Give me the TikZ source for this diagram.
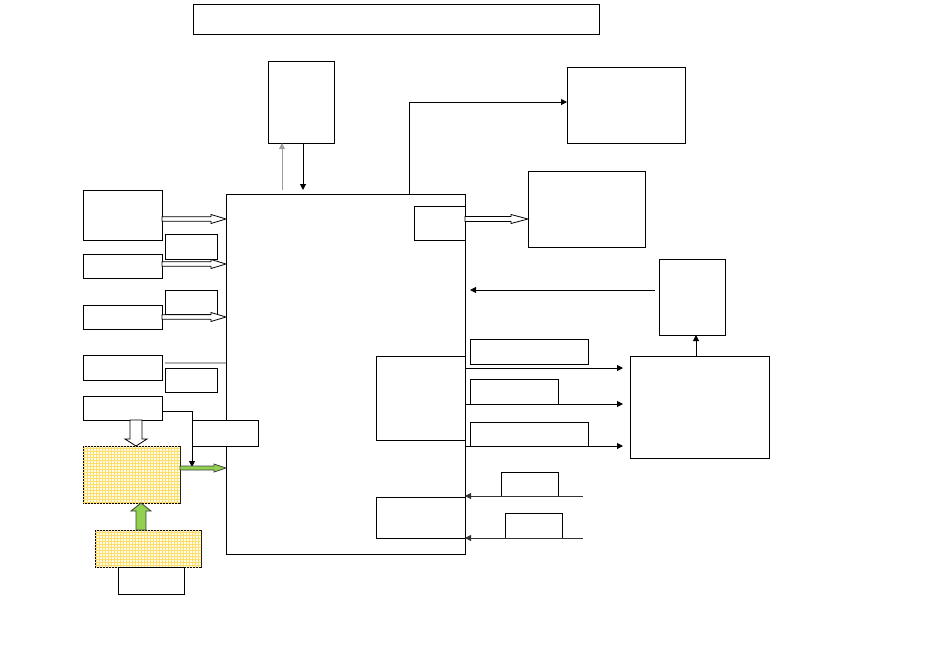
\documentclass[tikz,border=0pt]{standalone}
\usepackage{tikz}
\usetikzlibrary{arrows.meta, calc, patterns}
\definecolor{leafgreen}{HTML}{92D050}
\definecolor{gridgold}{HTML}{FFDC6E}
% block arrow: [style]{from}{to}{shaft half width}{head half width}{head length}
\newcommand{\blockarrow}[6][]{%
  \draw[#1] let \p1=(#2), \p2=(#3),
      \n1={veclen(\x2-\x1,\y2-\y1)},
      \n2={(\x2-\x1)/\n1}, \n3={(\y2-\y1)/\n1}
    in ({\x1-#4*\n3},{\y1+#4*\n2})
    -- ({\x2-#6*\n2-#4*\n3},{\y2-#6*\n3+#4*\n2})
    -- ({\x2-#6*\n2-#5*\n3},{\y2-#6*\n3+#5*\n2})
    -- (\p2)
    -- ({\x2-#6*\n2+#5*\n3},{\y2-#6*\n3-#5*\n2})
    -- ({\x2-#6*\n2+#4*\n3},{\y2-#6*\n3-#4*\n2})
    -- ({\x1+#4*\n3},{\y1-#4*\n2}) -- cycle;}

\begin{document}
\begin{tikzpicture}[
  x=1pt, y=-1pt,
  every node/.style = {inner sep=0pt, outer sep=0pt},
  blk/.style = {draw, fill=white, line width=1pt},
  grid/.style = {draw, line width=1pt, fill=yellow!10, postaction={pattern=grid, pattern color=gridgold}},
  arr/.style = {line width=1pt, -{Triangle[length=6pt, width=6pt]}},
  hollow/.style = {draw, fill=white, line width=0.8pt},
  leaf/.style = {draw=black!75, fill=leafgreen, line width=0.8pt}
]
  \useasboundingbox (0,0) rectangle (950,667);

  \node[blk, minimum width=406, minimum height=30] (title) at (396,19) {};
  \node[blk, minimum width=66, minimum height=82] (mem) at (301,102) {};

  % main block
  \node[blk, minimum width=239, minimum height=360] (main) at (345.5,374) {};
  \node[blk, minimum width=51, minimum height=34] (sm) at (439.5,223) {};
  \node[blk, minimum width=89, minimum height=84] (mid) at (420.5,398) {};
  \node[blk, minimum width=89, minimum height=41] (low) at (420.5,517.5) {};

  % right side
  \node[blk, minimum width=118, minimum height=76] (r1) at (626,105) {};
  \node[blk, minimum width=117, minimum height=76] (r2) at (586.5,209) {};
  \node[blk, minimum width=66, minimum height=76] (r3) at (692,297) {};
  \node[blk, minimum width=139, minimum height=102] (r4) at (699.5,407) {};
  \node[blk, minimum width=118, minimum height=25] (lab1) at (529,351.5) {};
  \node[blk, minimum width=88, minimum height=25] (lab2) at (514,391.5) {};
  \node[blk, minimum width=118, minimum height=24] (lab3) at (529,434) {};
  \node[blk, minimum width=57, minimum height=24] (lab4) at (529.5,484) {};
  \node[blk, minimum width=57, minimum height=25] (lab5) at (533.5,525.5) {};

  % left side
  \node[blk, minimum width=79, minimum height=50] (l1) at (122.5,215) {};
  \node[blk, minimum width=79, minimum height=24] (l2) at (122.5,266) {};
  \node[blk, minimum width=79, minimum height=24] (l3) at (122.5,317) {};
  \node[blk, minimum width=79, minimum height=25] (l4) at (122.5,367.5) {};
  \node[blk, minimum width=79, minimum height=24] (l5) at (122.5,408) {};
  \node[blk, minimum width=52, minimum height=25] (s1) at (191,246.5) {};
  \node[blk, minimum width=52, minimum height=24] (s2) at (191,302) {};
  \node[blk, minimum width=52, minimum height=24] (s3) at (191,380) {};
  \node[blk, minimum width=66, minimum height=26] (s4) at (225,433) {};
  \node[grid, minimum width=97, minimum height=57] (y1) at (131.5,474.5) {};
  \node[grid, minimum width=106, minimum height=37] (y2) at (148,548.5) {};
  \node[blk, minimum width=66, minimum height=27] (b1) at (151,580.5) {};

  % connectors, left
  \coordinate (p1) at ($(l1.east)+(0,4)$);
  \coordinate (p2) at ($(l2.east)+(0,-2)$);
  \coordinate (p3) at ($(l3.east)+(0,0)$);
  \coordinate (p4) at ($(l4.east)+(3,-4.5)$);
  \coordinate (p5) at ($(y1.east)+(0,-6.5)$);
  \blockarrow[hollow]{p1}{p1 -| main.west}{2.2}{4.5}{15}
  \blockarrow[hollow]{p2}{p2 -| main.west}{2.2}{4.5}{15}
  \blockarrow[hollow]{p3}{p3 -| main.west}{2.2}{4.5}{15}
  \draw[gray!60, line width=1.2pt] (p4) -- (p4 -| main.west);
  \draw[arr, line width=0.8pt] ($(l5.east)+(0,3)$) -| ($(s4.west |- p5)+(0,-1)$);
  \blockarrow[hollow]{$(l5.south)+(13.5,0)$}{$(y1.north)+(4.5,0)$}{6}{11}{7}
  \blockarrow[leaf]{p5}{p5 -| main.west}{2}{4}{12}
  \blockarrow[leaf]{$(y2.north)+(-7,0)$}{$(y1.south)+(9.5,0)$}{5}{10}{8}

  % connectors, top
  \draw[arr, gray!75, shorten <=4pt] ($(main.north)+(-63.5,0)$) -- ($(mem.south)+(-19,0)$);
  \draw[arr, shorten >=4pt] ($(mem.south)+(2,0)$) -- ($(main.north)+(-42.5,0)$);
  \draw[arr] ($(main.north)+(63.5,0)$) |- ($(r1.west)+(0,-3)$);

  % connectors, right
  \coordinate (p6) at ($(sm.east)+(0,-4)$);
  \blockarrow[hollow]{p6}{p6 -| r2.west}{2.5}{4.5}{17}
  \coordinate (p7) at ($(r3.west)+(0,-7)$);
  \draw[arr, shorten <=4pt, shorten >=5pt] (p7) -- (p7 -| main.east);
  \coordinate (p8) at ($(main.east |- lab1.south)+(0,4)$);
  \draw[arr, shorten >=7pt] (p8) -- (p8 -| r4.west);
  \draw[arr, shorten >=7pt] (main.east |- lab2.south) -- (lab2.south -| r4.west);
  \draw[arr, shorten >=7pt] (main.east |- lab3.south) -- (lab3.south -| r4.west);
  \draw[arr] ($(r4.north)+(-3.5,0)$) -- ($(r3.south)+(4,0)$);

  \draw[arr, gray!40!black] ($(lab4.south east)+(25,0)$) -- (lab4.south -| main.east);
  \draw[arr, gray!40!black] ($(lab5.south east)+(21,0)$) -- (lab5.south -| main.east);
\end{tikzpicture}
\end{document}
